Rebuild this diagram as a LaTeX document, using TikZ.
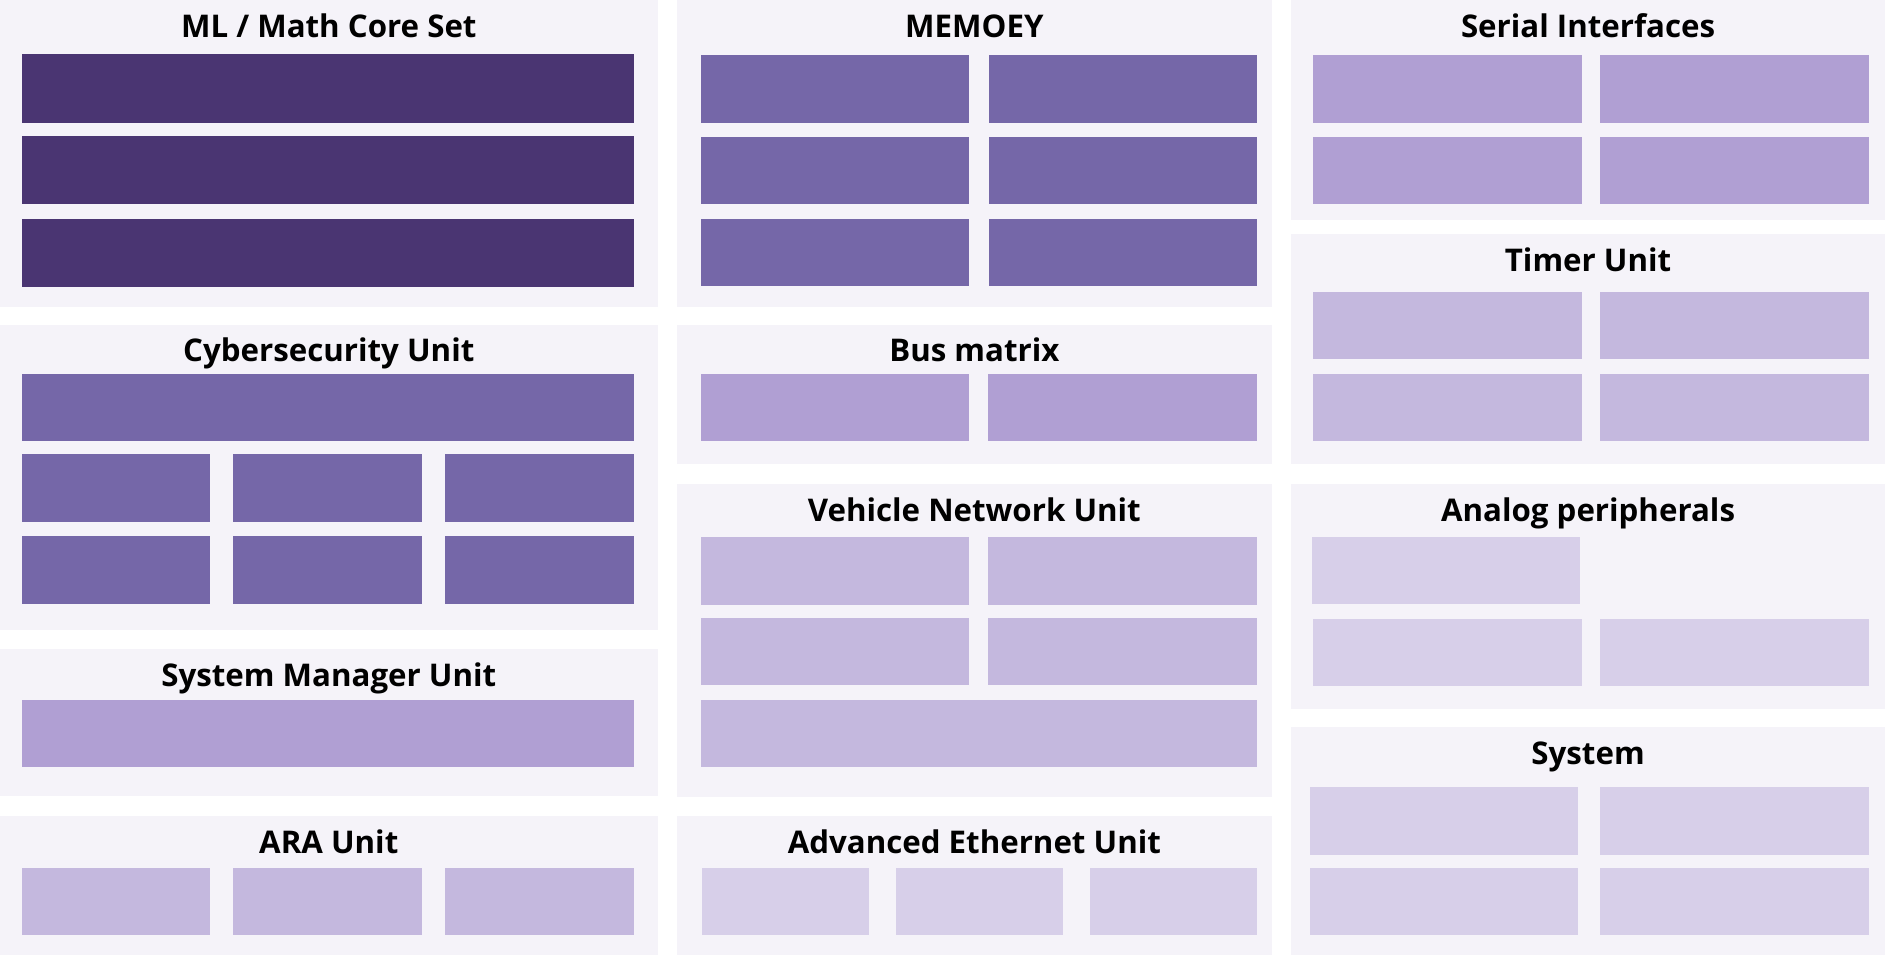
\documentclass[tikz,border=0pt]{standalone}
\usepackage{fontspec}
\setmainfont{Open Sans}
\usetikzlibrary{positioning,calc}
\definecolor{panelbg}{HTML}{F5F3F9}
\definecolor{cdark}{HTML}{4A3572}
\definecolor{cmid}{HTML}{7567A8}
\definecolor{clightA}{HTML}{B09FD3}
\definecolor{clightB}{HTML}{C4B8DE}
\definecolor{clightC}{HTML}{D7CFE9}
\tikzset{
  panel/.style={fill=panelbg,draw=none,inner sep=0pt,outer sep=0pt,anchor=north west},
  blk/.style={draw=none,inner sep=0pt,outer sep=0pt,anchor=north west},
  ttl/.style={font=\bfseries\fontsize{13}{15}\selectfont,anchor=base,inner sep=0pt}
}
% name, x, y, width, height, title
\newcommand \mypanel[6]
{
\node[panel,minimum width=#4*0.5pt,minimum height=#5*0.5pt] (#1) at (#2,#3) {};
\node[ttl] (#1-t) at ($(#1.north)+(0,31)$) {#6};
}
% name, colour, x, y, width, height
\newcommand \myblock[6]
{
\node[blk,fill=#2,minimum width=#5*0.5pt,minimum height=#6*0.5pt] (#1) at (#3,#4) {};
}
\begin{document}
\begin{tikzpicture}[x=0.5pt,y=-0.5pt]
\useasboundingbox[fill=white] (0,0) rectangle (1568,794);
% left column
\mypanel{ml}{0}{0}{547}{255}{ML / Math Core Set}
\myblock{ml1}{cdark}{18}{45}{509}{57}
\myblock{ml2}{cdark}{18}{113}{509}{57}
\myblock{ml3}{cdark}{18}{182}{509}{57}
\mypanel{cs}{0}{270}{547}{254}{Cybersecurity Unit}
\myblock{cs0}{cmid}{18}{311}{509}{56}
\foreach \i/\x in {1/18,2/194,3/370}
{
\myblock{csa\i}{cmid}{\x}{378}{157}{56}
\myblock{csb\i}{cmid}{\x}{446}{157}{56}
}
\mypanel{sm}{0}{540}{547}{122}{System Manager Unit}
\myblock{sm1}{clightA}{18}{582}{509}{56}
\mypanel{ara}{0}{679}{547}{115}{ARA Unit}
\foreach \i/\x in {1/18,2/194,3/370}
{
\myblock{ara\i}{clightB}{\x}{722}{157}{56}
}
% middle column
\mypanel{mem}{563}{0}{495}{255}{MEMOEY}
\foreach \j/\y in {1/46,2/114,3/182}
{
\myblock{mema\j}{cmid}{583}{\y}{223}{56}
\myblock{memb\j}{cmid}{823}{\y}{223}{56}
}
\mypanel{bus}{563}{270}{495}{116}{Bus matrix}
\myblock{bus1}{clightA}{583}{311}{223}{56}
\myblock{bus2}{clightA}{822}{311}{224}{56}
\mypanel{vnu}{563}{403}{495}{260}{Vehicle Network Unit}
\foreach \j/\y in {1/447,2/514}
{
\myblock{vnua\j}{clightB}{583}{\y}{223}{56}
\myblock{vnub\j}{clightB}{822}{\y}{224}{56}
}
\myblock{vnu0}{clightB}{583}{582}{463}{56}
\mypanel{aeu}{563}{679}{495}{115}{Advanced Ethernet Unit}
\foreach \i/\x in {1/584,2/745,3/907}
{
\myblock{aeu\i}{clightC}{\x}{722}{139}{56}
}
% right column
\mypanel{ser}{1074}{0}{494}{183}{Serial Interfaces}
\foreach \j/\y in {1/46,2/114}
{
\myblock{sera\j}{clightA}{1092}{\y}{224}{56}
\myblock{serb\j}{clightA}{1331}{\y}{224}{56}
}
\mypanel{tim}{1074}{195}{494}{191}{Timer Unit}
\foreach \j/\y in {1/243,2/311}
{
\myblock{tima\j}{clightB}{1092}{\y}{224}{56}
\myblock{timb\j}{clightB}{1331}{\y}{224}{56}
}
\mypanel{ana}{1074}{403}{494}{187}{Analog peripherals}
\myblock{ana0}{clightC}{1091}{447}{223}{55}
\myblock{ana1}{clightC}{1092}{515}{224}{56}
\myblock{ana2}{clightC}{1331}{515}{224}{56}
\mypanel{sys}{1074}{605}{494}{189}{System}
\foreach \j/\y in {1/655,2/722}
{
\myblock{sysa\j}{clightC}{1090}{\y}{223}{56}
\myblock{sysb\j}{clightC}{1331}{\y}{224}{56}
}
\end{tikzpicture}
\end{document}
